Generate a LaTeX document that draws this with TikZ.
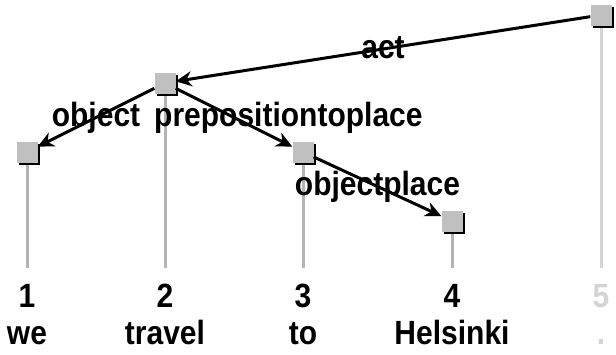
\documentclass[tikz,border=0pt]{standalone}
\usepackage{fontspec}
\setmainfont{Liberation Sans}
\usetikzlibrary{arrows.meta,shadows}
\definecolor{boxgray}{HTML}{C0C0C0}
\definecolor{stemgray}{HTML}{B4B4B4}
\definecolor{pale}{HTML}{D4D4D4}
% taller glyphs for the bold label face
\newcommand{\tallbold}[1]{\scalebox{1}[1.12]{#1}}
\begin{document}
\begin{tikzpicture}[x=1pt,y=-1pt,
  font=\fontsize{30}{36}\selectfont\bfseries,
  word/.style={draw=none,fill=none,inner sep=0pt,anchor=base},
  tok/.style={rectangle,minimum size=21pt,inner sep=0pt,fill=boxgray,
    drop shadow={shadow xshift=2.5pt,shadow yshift=-2.5pt,fill=black,opacity=1}},
  stem/.style={line width=3pt,stemgray},
  dep/.style={line width=3pt,black,-{Stealth[length=16pt,width=15pt,inset=5pt]}},
  deplabel/.style={midway,anchor=base,yshift=-9pt,inner sep=0pt}]
  \useasboundingbox (0,0) rectangle (616,354);

  % word positions
  \coordinate (b1) at (27,268);
  \coordinate (b2) at (165,268);
  \coordinate (b3) at (303,268);
  \coordinate (b4) at (452,268);
  \coordinate (b5) at (601,268);

  % stems from each token box down to the word row
  \draw[stem] (27,152) -- (b1);
  \draw[stem] (165,83) -- (b2);
  \draw[stem] (303,152) -- (b3);
  \draw[stem] (452,221) -- (b4);
  \draw[stem,pale] (601,15) -- (b5);

  % token boxes
  \node[tok] (t1) at (27,152) {};
  \node[tok] (t2) at (165,83) {};
  \node[tok] (t3) at (303,152) {};
  \node[tok] (t4) at (452,221) {};
  \node[tok] (t5) at (601,15) {};

  % dependency arcs
  \draw[dep] (t5) -- (t2) node[deplabel] (lact) {\tallbold{act}};
  \draw[dep] (t2) -- (t1) node[deplabel] (lobj) {\tallbold{object}};
  \draw[dep] (t2) -- (t3);
  \draw[dep] (t3) -- (t4) node[deplabel] (lobjp) {\tallbold{objectplace}};
  \node[word,anchor=base west] (lprep) at (154,126) {\tallbold{prepositiontoplace}};

  % indices and words
  \node[word] (n1) at (27,307) {\tallbold{1}};
  \node[word] (n2) at (165,307) {\tallbold{2}};
  \node[word] (n3) at (303,307) {\tallbold{3}};
  \node[word] (n4) at (452,307) {\tallbold{4}};
  \node[word,text=pale] (n5) at (601,307) {\tallbold{5}};
  \node[word] (w1) at (27,344) {\tallbold{we}};
  \node[word] (w2) at (165,344) {\tallbold{travel}};
  \node[word] (w3) at (303,344) {\tallbold{to}};
  \node[word] (w4) at (452,344) {\tallbold{Helsinki}};
  \node[word,text=pale] (w5) at (601,344) {\tallbold{.}};
\end{tikzpicture}
\end{document}
